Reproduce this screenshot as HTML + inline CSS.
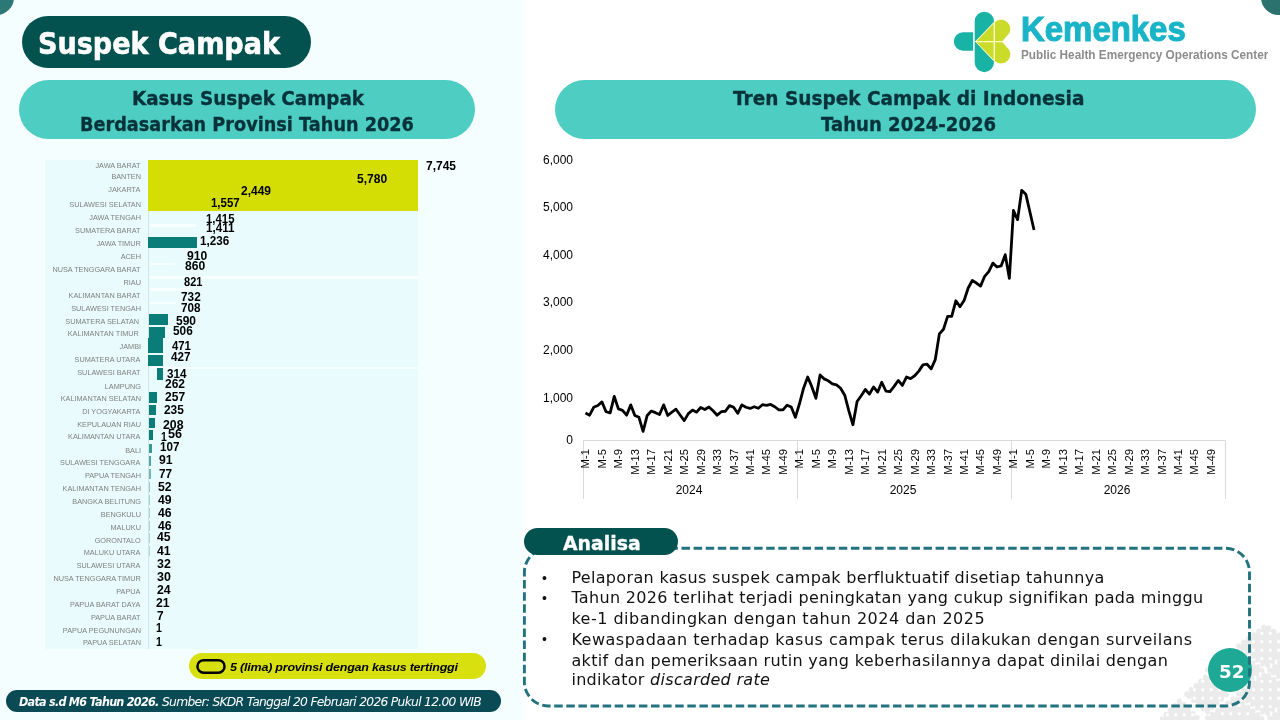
<!DOCTYPE html>
<html lang="id"><head><meta charset="utf-8"><title>Suspek Campak</title>
<style>
html,body{margin:0;padding:0;background:#fff}
body{width:1280px;height:720px;position:relative;overflow:hidden}
.b{position:absolute;display:block}
.t{position:absolute;white-space:nowrap;transform-origin:0 0;margin:0;padding:0}
</style></head><body>
<div class="b" style="left:0.00px;top:0.00px;width:524.00px;height:720.00px;background:#f4fefe;border-radius:0px;"></div>
<div class="b" style="left:518px;top:0;width:12px;height:720px;background:linear-gradient(90deg,#f4fefe,#ffffff)"></div>
<div class="b" style="left:-21px;top:-20.5px;width:35px;height:35px;border-radius:50%;background:#2b7876"></div>
<div class="b" style="left:1260.5px;top:-20.5px;width:35px;height:35px;border-radius:50%;background:#2b726f"></div>
<div class="b" style="left:22.00px;top:16.00px;width:289.00px;height:51.50px;background:#04524f;border-radius:26px;"></div>
<div class="t" style="left:37.71px;top:25.85px;font:normal bold 30px 'DejaVu Sans', sans-serif;line-height:normal;color:#fff;transform:scaleX(0.9021);-webkit-text-stroke:0.6px #fff;paint-order:stroke fill;">Suspek Campak</div>
<div class="b" style="left:19.00px;top:80.00px;width:456.00px;height:59.00px;background:#4ecdc3;border-radius:29.5px;"></div>
<div class="t" style="left:131.82px;top:86.10px;font:normal bold 20px 'DejaVu Sans', sans-serif;line-height:normal;color:#07323a;transform:scaleX(0.9179);-webkit-text-stroke:0.35px #07323a;paint-order:stroke fill;">Kasus Suspek Campak</div>
<div class="t" style="left:80.38px;top:112.00px;font:normal bold 20px 'DejaVu Sans', sans-serif;line-height:normal;color:#07323a;transform:scaleX(0.8839);-webkit-text-stroke:0.35px #07323a;paint-order:stroke fill;">Berdasarkan Provinsi Tahun 2026</div>
<div class="b" style="left:555.20px;top:80.00px;width:701.00px;height:59.00px;background:#4ecdc3;border-radius:29.5px;"></div>
<div class="t" style="left:732.58px;top:85.60px;font:normal bold 20px 'DejaVu Sans', sans-serif;line-height:normal;color:#07323a;transform:scaleX(0.9253);-webkit-text-stroke:0.35px #07323a;paint-order:stroke fill;">Tren Suspek Campak di Indonesia</div>
<div class="t" style="left:821.08px;top:111.50px;font:normal bold 20px 'DejaVu Sans', sans-serif;line-height:normal;color:#07323a;transform:scaleX(0.9033);-webkit-text-stroke:0.35px #07323a;paint-order:stroke fill;">Tahun 2024-2026</div>
<div class="b" style="left:44.60px;top:159.75px;width:373.20px;height:489.70px;background:#e9fbfc;border-radius:0px;"></div>
<div class="b" style="left:147.75px;top:159.75px;width:270.70px;height:51.30px;background:#d5de04;border-radius:0px;"></div>
<div class="b" style="left:148.30px;top:211.00px;width:1.00px;height:438.40px;background:#d3e6e6;border-radius:0px;"></div>
<div class="t" style="left:95.40px;top:161.38px;font:normal normal 7.3px 'Liberation Sans', sans-serif;line-height:normal;color:#808080;transform:scaleX(1.0000);">JAWA BARAT</div>
<div class="t" style="left:111.38px;top:172.23px;font:normal normal 7.3px 'Liberation Sans', sans-serif;line-height:normal;color:#808080;transform:scaleX(1.0000);">BANTEN</div>
<div class="t" style="left:108.24px;top:185.38px;font:normal normal 7.3px 'Liberation Sans', sans-serif;line-height:normal;color:#808080;transform:scaleX(1.0000);">JAKARTA</div>
<div class="t" style="left:69.33px;top:200.38px;font:normal normal 7.3px 'Liberation Sans', sans-serif;line-height:normal;color:#808080;transform:scaleX(1.0000);">SULAWESI SELATAN</div>
<div class="t" style="left:89.34px;top:213.08px;font:normal normal 7.3px 'Liberation Sans', sans-serif;line-height:normal;color:#808080;transform:scaleX(1.0000);">JAWA TENGAH</div>
<div class="t" style="left:75.10px;top:226.23px;font:normal normal 7.3px 'Liberation Sans', sans-serif;line-height:normal;color:#808080;transform:scaleX(1.0000);">SUMATERA BARAT</div>
<div class="t" style="left:96.42px;top:239.18px;font:normal normal 7.3px 'Liberation Sans', sans-serif;line-height:normal;color:#808080;transform:scaleX(1.0000);">JAWA TIMUR</div>
<div class="t" style="left:120.73px;top:252.28px;font:normal normal 7.3px 'Liberation Sans', sans-serif;line-height:normal;color:#808080;transform:scaleX(1.0000);">ACEH</div>
<div class="t" style="left:52.40px;top:265.08px;font:normal normal 7.3px 'Liberation Sans', sans-serif;line-height:normal;color:#808080;transform:scaleX(1.0000);">NUSA TENGGARA BARAT</div>
<div class="t" style="left:123.54px;top:278.48px;font:normal normal 7.3px 'Liberation Sans', sans-serif;line-height:normal;color:#808080;transform:scaleX(1.0000);">RIAU</div>
<div class="t" style="left:68.60px;top:290.98px;font:normal normal 7.3px 'Liberation Sans', sans-serif;line-height:normal;color:#808080;transform:scaleX(1.0000);">KALIMANTAN BARAT</div>
<div class="t" style="left:71.23px;top:304.08px;font:normal normal 7.3px 'Liberation Sans', sans-serif;line-height:normal;color:#808080;transform:scaleX(1.0000);">SULAWESI TENGAH</div>
<div class="t" style="left:65.28px;top:317.23px;font:normal normal 7.3px 'Liberation Sans', sans-serif;line-height:normal;color:#808080;transform:scaleX(1.0000);">SUMATERA SELATAN</div>
<div class="t" style="left:67.73px;top:329.38px;font:normal normal 7.3px 'Liberation Sans', sans-serif;line-height:normal;color:#808080;transform:scaleX(1.0000);">KALIMANTAN TIMUR</div>
<div class="t" style="left:119.60px;top:342.18px;font:normal normal 7.3px 'Liberation Sans', sans-serif;line-height:normal;color:#808080;transform:scaleX(1.0000);">JAMBI</div>
<div class="t" style="left:74.55px;top:355.08px;font:normal normal 7.3px 'Liberation Sans', sans-serif;line-height:normal;color:#808080;transform:scaleX(1.0000);">SUMATERA UTARA</div>
<div class="t" style="left:77.26px;top:368.23px;font:normal normal 7.3px 'Liberation Sans', sans-serif;line-height:normal;color:#808080;transform:scaleX(1.0000);">SULAWESI BARAT</div>
<div class="t" style="left:104.81px;top:382.28px;font:normal normal 7.3px 'Liberation Sans', sans-serif;line-height:normal;color:#808080;transform:scaleX(1.0000);">LAMPUNG</div>
<div class="t" style="left:60.68px;top:394.08px;font:normal normal 7.3px 'Liberation Sans', sans-serif;line-height:normal;color:#808080;transform:scaleX(1.0000);">KALIMANTAN SELATAN</div>
<div class="t" style="left:82.15px;top:407.08px;font:normal normal 7.3px 'Liberation Sans', sans-serif;line-height:normal;color:#808080;transform:scaleX(1.0000);">DI YOGYAKARTA</div>
<div class="t" style="left:77.26px;top:419.98px;font:normal normal 7.3px 'Liberation Sans', sans-serif;line-height:normal;color:#808080;transform:scaleX(1.0000);">KEPULAUAN RIAU</div>
<div class="t" style="left:68.09px;top:432.18px;font:normal normal 7.3px 'Liberation Sans', sans-serif;line-height:normal;color:#808080;transform:scaleX(1.0000);">KALIMANTAN UTARA</div>
<div class="t" style="left:125.25px;top:446.23px;font:normal normal 7.3px 'Liberation Sans', sans-serif;line-height:normal;color:#808080;transform:scaleX(1.0000);">BALI</div>
<div class="t" style="left:60.10px;top:457.88px;font:normal normal 7.3px 'Liberation Sans', sans-serif;line-height:normal;color:#808080;transform:scaleX(1.0000);">SULAWESI TENGGARA</div>
<div class="t" style="left:84.88px;top:470.98px;font:normal normal 7.3px 'Liberation Sans', sans-serif;line-height:normal;color:#808080;transform:scaleX(1.0000);">PAPUA TENGAH</div>
<div class="t" style="left:62.58px;top:484.08px;font:normal normal 7.3px 'Liberation Sans', sans-serif;line-height:normal;color:#808080;transform:scaleX(1.0000);">KALIMANTAN TENGAH</div>
<div class="t" style="left:72.36px;top:497.23px;font:normal normal 7.3px 'Liberation Sans', sans-serif;line-height:normal;color:#808080;transform:scaleX(1.0000);">BANGKA BELITUNG</div>
<div class="t" style="left:100.80px;top:509.98px;font:normal normal 7.3px 'Liberation Sans', sans-serif;line-height:normal;color:#808080;transform:scaleX(1.0000);">BENGKULU</div>
<div class="t" style="left:110.54px;top:523.08px;font:normal normal 7.3px 'Liberation Sans', sans-serif;line-height:normal;color:#808080;transform:scaleX(1.0000);">MALUKU</div>
<div class="t" style="left:94.63px;top:535.68px;font:normal normal 7.3px 'Liberation Sans', sans-serif;line-height:normal;color:#808080;transform:scaleX(1.0000);">GORONTALO</div>
<div class="t" style="left:83.75px;top:547.88px;font:normal normal 7.3px 'Liberation Sans', sans-serif;line-height:normal;color:#808080;transform:scaleX(1.0000);">MALUKU UTARA</div>
<div class="t" style="left:76.74px;top:560.98px;font:normal normal 7.3px 'Liberation Sans', sans-serif;line-height:normal;color:#808080;transform:scaleX(1.0000);">SULAWESI UTARA</div>
<div class="t" style="left:53.38px;top:574.08px;font:normal normal 7.3px 'Liberation Sans', sans-serif;line-height:normal;color:#808080;transform:scaleX(1.0000);">NUSA TENGGARA TIMUR</div>
<div class="t" style="left:116.20px;top:587.23px;font:normal normal 7.3px 'Liberation Sans', sans-serif;line-height:normal;color:#808080;transform:scaleX(1.0000);">PAPUA</div>
<div class="t" style="left:70.10px;top:599.98px;font:normal normal 7.3px 'Liberation Sans', sans-serif;line-height:normal;color:#808080;transform:scaleX(1.0000);">PAPUA BARAT DAYA</div>
<div class="t" style="left:90.91px;top:612.88px;font:normal normal 7.3px 'Liberation Sans', sans-serif;line-height:normal;color:#808080;transform:scaleX(1.0000);">PAPUA BARAT</div>
<div class="t" style="left:62.84px;top:626.08px;font:normal normal 7.3px 'Liberation Sans', sans-serif;line-height:normal;color:#808080;transform:scaleX(1.0000);">PAPUA PEGUNUNGAN</div>
<div class="t" style="left:82.99px;top:638.23px;font:normal normal 7.3px 'Liberation Sans', sans-serif;line-height:normal;color:#808080;transform:scaleX(1.0000);">PAPUA SELATAN</div>
<div class="b" style="left:149.70px;top:224.00px;width:46.00px;height:3.00px;background:#f8ffff;border-radius:0px;"></div>
<div class="b" style="left:149.70px;top:262.50px;width:25.50px;height:2.30px;background:#f8ffff;border-radius:0px;"></div>
<div class="b" style="left:149.70px;top:275.50px;width:268.00px;height:3.00px;background:#f8ffff;border-radius:0px;"></div>
<div class="b" style="left:149.70px;top:288.30px;width:40.00px;height:2.50px;background:#f8ffff;border-radius:0px;"></div>
<div class="b" style="left:149.70px;top:301.50px;width:26.00px;height:2.50px;background:#f8ffff;border-radius:0px;"></div>
<div class="b" style="left:149.70px;top:366.50px;width:268.00px;height:2.50px;background:#f8ffff;border-radius:0px;"></div>
<div class="b" style="left:148.20px;top:237.20px;width:48.80px;height:10.70px;background:#0b7d79;border-radius:0px;"></div>
<div class="b" style="left:149.30px;top:314.30px;width:18.60px;height:10.70px;background:#0b7d79;border-radius:0px;"></div>
<div class="b" style="left:149.30px;top:326.90px;width:15.70px;height:10.85px;background:#0b7d79;border-radius:0px;"></div>
<div class="b" style="left:148.20px;top:337.75px;width:14.60px;height:15.25px;background:#0b7d79;border-radius:0px;"></div>
<div class="b" style="left:148.20px;top:355.40px;width:14.60px;height:10.30px;background:#0b7d79;border-radius:0px;"></div>
<div class="b" style="left:157.20px;top:368.10px;width:5.60px;height:12.20px;background:#0b7d79;border-radius:0px;"></div>
<div class="b" style="left:149.30px;top:392.10px;width:7.30px;height:10.70px;background:#0b7d79;border-radius:0px;"></div>
<div class="b" style="left:149.30px;top:405.25px;width:6.60px;height:10.15px;background:#0b7d79;border-radius:0px;"></div>
<div class="b" style="left:149.30px;top:418.20px;width:5.45px;height:10.30px;background:#0b7d79;border-radius:0px;"></div>
<div class="b" style="left:149.30px;top:430.00px;width:3.70px;height:10.30px;background:#0b7d79;border-radius:0px;"></div>
<div class="b" style="left:149.30px;top:443.50px;width:2.30px;height:9.90px;background:#3a9a96;border-radius:0px;"></div>
<div class="b" style="left:149.30px;top:456.25px;width:1.70px;height:9.75px;background:#4fa7a3;border-radius:0px;"></div>
<div class="b" style="left:149.30px;top:469.00px;width:1.30px;height:10.00px;background:#6fb8b5;border-radius:0px;"></div>
<div class="b" style="left:149.30px;top:481.50px;width:1.00px;height:10.40px;background:#8fcac8;border-radius:0px;"></div>
<div class="b" style="left:149.30px;top:494.50px;width:0.90px;height:10.40px;background:#9fd2d0;border-radius:0px;"></div>
<div class="b" style="left:149.30px;top:507.50px;width:0.90px;height:10.40px;background:#a5d5d3;border-radius:0px;"></div>
<div class="b" style="left:149.30px;top:520.50px;width:0.90px;height:10.40px;background:#a5d5d3;border-radius:0px;"></div>
<div class="b" style="left:149.30px;top:533.00px;width:0.90px;height:10.40px;background:#a9d7d5;border-radius:0px;"></div>
<div class="b" style="left:149.30px;top:545.50px;width:0.80px;height:10.40px;background:#b0dad8;border-radius:0px;"></div>
<div class="t" style="left:426.12px;top:159.47px;font:normal bold 12.4px 'Liberation Sans', sans-serif;line-height:normal;color:#000;transform:scaleX(0.9671);">7,745</div>
<div class="t" style="left:357.14px;top:171.67px;font:normal bold 12.4px 'Liberation Sans', sans-serif;line-height:normal;color:#000;transform:scaleX(0.9724);">5,780</div>
<div class="t" style="left:241.28px;top:183.97px;font:normal bold 12.4px 'Liberation Sans', sans-serif;line-height:normal;color:#000;transform:scaleX(0.9658);">2,449</div>
<div class="t" style="left:210.91px;top:195.97px;font:normal bold 12.4px 'Liberation Sans', sans-serif;line-height:normal;color:#000;transform:scaleX(0.9241);">1,557</div>
<div class="t" style="left:205.82px;top:211.87px;font:normal bold 12.4px 'Liberation Sans', sans-serif;line-height:normal;color:#000;transform:scaleX(0.9183);">1,415</div>
<div class="t" style="left:205.80px;top:220.87px;font:normal bold 12.4px 'Liberation Sans', sans-serif;line-height:normal;color:#000;transform:scaleX(0.9397);">1,411</div>
<div class="t" style="left:199.60px;top:234.37px;font:normal bold 12.4px 'Liberation Sans', sans-serif;line-height:normal;color:#000;transform:scaleX(0.9423);">1,236</div>
<div class="t" style="left:186.78px;top:248.97px;font:normal bold 12.4px 'Liberation Sans', sans-serif;line-height:normal;color:#000;transform:scaleX(0.9789);">910</div>
<div class="t" style="left:184.94px;top:259.32px;font:normal bold 12.4px 'Liberation Sans', sans-serif;line-height:normal;color:#000;transform:scaleX(0.9758);">860</div>
<div class="t" style="left:184.07px;top:274.67px;font:normal bold 12.4px 'Liberation Sans', sans-serif;line-height:normal;color:#000;transform:scaleX(0.8916);">821</div>
<div class="t" style="left:181.43px;top:289.57px;font:normal bold 12.4px 'Liberation Sans', sans-serif;line-height:normal;color:#000;transform:scaleX(0.9535);">732</div>
<div class="t" style="left:180.73px;top:300.82px;font:normal bold 12.4px 'Liberation Sans', sans-serif;line-height:normal;color:#000;transform:scaleX(0.9455);">708</div>
<div class="t" style="left:176.14px;top:313.77px;font:normal bold 12.4px 'Liberation Sans', sans-serif;line-height:normal;color:#000;transform:scaleX(0.9657);">590</div>
<div class="t" style="left:173.15px;top:323.67px;font:normal bold 12.4px 'Liberation Sans', sans-serif;line-height:normal;color:#000;transform:scaleX(0.9526);">506</div>
<div class="t" style="left:172.03px;top:339.07px;font:normal bold 12.4px 'Liberation Sans', sans-serif;line-height:normal;color:#000;transform:scaleX(0.9132);">471</div>
<div class="t" style="left:171.08px;top:349.97px;font:normal bold 12.4px 'Liberation Sans', sans-serif;line-height:normal;color:#000;transform:scaleX(0.9392);">427</div>
<div class="t" style="left:166.87px;top:366.82px;font:normal bold 12.4px 'Liberation Sans', sans-serif;line-height:normal;color:#000;transform:scaleX(0.9417);">314</div>
<div class="t" style="left:164.83px;top:376.57px;font:normal bold 12.4px 'Liberation Sans', sans-serif;line-height:normal;color:#000;transform:scaleX(0.9682);">262</div>
<div class="t" style="left:164.83px;top:389.67px;font:normal bold 12.4px 'Liberation Sans', sans-serif;line-height:normal;color:#000;transform:scaleX(0.9713);">257</div>
<div class="t" style="left:163.88px;top:402.82px;font:normal bold 12.4px 'Liberation Sans', sans-serif;line-height:normal;color:#000;transform:scaleX(0.9597);">235</div>
<div class="t" style="left:162.77px;top:417.82px;font:normal bold 12.4px 'Liberation Sans', sans-serif;line-height:normal;color:#000;transform:scaleX(0.9929);">208</div>
<div class="t" style="left:161.07px;top:429.67px;font:normal bold 12.4px 'Liberation Sans', sans-serif;line-height:normal;color:#000;transform:scaleX(0.8408);">1</div>
<div class="t" style="left:168.02px;top:426.82px;font:normal bold 12.4px 'Liberation Sans', sans-serif;line-height:normal;color:#000;transform:scaleX(1.0187);">56</div>
<div class="t" style="left:160.20px;top:440.47px;font:normal bold 12.4px 'Liberation Sans', sans-serif;line-height:normal;color:#000;transform:scaleX(0.9379);">107</div>
<div class="t" style="left:158.97px;top:453.47px;font:normal bold 12.4px 'Liberation Sans', sans-serif;line-height:normal;color:#000;transform:scaleX(0.9831);">91</div>
<div class="t" style="left:158.63px;top:466.57px;font:normal bold 12.4px 'Liberation Sans', sans-serif;line-height:normal;color:#000;transform:scaleX(0.9513);">77</div>
<div class="t" style="left:158.13px;top:479.67px;font:normal bold 12.4px 'Liberation Sans', sans-serif;line-height:normal;color:#000;transform:scaleX(0.9839);">52</div>
<div class="t" style="left:157.57px;top:492.82px;font:normal bold 12.4px 'Liberation Sans', sans-serif;line-height:normal;color:#000;transform:scaleX(0.9852);">49</div>
<div class="t" style="left:157.57px;top:505.97px;font:normal bold 12.4px 'Liberation Sans', sans-serif;line-height:normal;color:#000;transform:scaleX(0.9852);">46</div>
<div class="t" style="left:157.57px;top:518.87px;font:normal bold 12.4px 'Liberation Sans', sans-serif;line-height:normal;color:#000;transform:scaleX(0.9852);">46</div>
<div class="t" style="left:157.02px;top:530.47px;font:normal bold 12.4px 'Liberation Sans', sans-serif;line-height:normal;color:#000;transform:scaleX(0.9873);">45</div>
<div class="t" style="left:157.02px;top:543.67px;font:normal bold 12.4px 'Liberation Sans', sans-serif;line-height:normal;color:#000;transform:scaleX(0.9873);">41</div>
<div class="t" style="left:156.95px;top:556.77px;font:normal bold 12.4px 'Liberation Sans', sans-serif;line-height:normal;color:#000;transform:scaleX(1.0014);">32</div>
<div class="t" style="left:156.95px;top:569.67px;font:normal bold 12.4px 'Liberation Sans', sans-serif;line-height:normal;color:#000;transform:scaleX(1.0061);">30</div>
<div class="t" style="left:156.77px;top:582.82px;font:normal bold 12.4px 'Liberation Sans', sans-serif;line-height:normal;color:#000;transform:scaleX(0.9873);">24</div>
<div class="t" style="left:156.17px;top:595.57px;font:normal bold 12.4px 'Liberation Sans', sans-serif;line-height:normal;color:#000;transform:scaleX(0.9831);">21</div>
<div class="t" style="left:156.73px;top:608.67px;font:normal bold 12.4px 'Liberation Sans', sans-serif;line-height:normal;color:#000;transform:scaleX(0.9508);">7</div>
<div class="t" style="left:156.36px;top:620.87px;font:normal bold 12.4px 'Liberation Sans', sans-serif;line-height:normal;color:#000;transform:scaleX(0.8579);">1</div>
<div class="t" style="left:156.36px;top:635.32px;font:normal bold 12.4px 'Liberation Sans', sans-serif;line-height:normal;color:#000;transform:scaleX(0.8579);">1</div>
<div class="b" style="left:189.30px;top:653.10px;width:296.70px;height:25.80px;background:#d8e010;border-radius:13px;"></div>
<svg class="b" style="left:190px;top:654px" width="42" height="24" viewBox="190 654 42 24"><rect x="197.45" y="660.15" width="27.1" height="12.5" rx="6.25" fill="none" stroke="#000" stroke-width="2.5"/></svg>
<div class="t" style="left:229.67px;top:660.14px;font:italic bold 11.6px 'Liberation Sans', sans-serif;line-height:normal;color:#000;transform:scaleX(1.0793);letter-spacing:-0.2px;">5 (lima) provinsi dengan kasus tertinggi</div>
<div class="b" style="left:6.10px;top:689.75px;width:494.50px;height:22.30px;background:#0a4a55;border-radius:11.2px;"></div>
<div class="t" style="left:19.48px;top:694.84px;font:italic bold 12px 'DejaVu Sans', sans-serif;line-height:normal;color:#fff;transform:scaleX(0.9349);letter-spacing:-0.8px;">Data s.d M6 Tahun 2026.</div>
<div class="t" style="left:162.44px;top:694.84px;font:italic normal 12px 'DejaVu Sans', sans-serif;line-height:normal;color:#fff;transform:scaleX(1.0260);letter-spacing:-0.7px;">Sumber: SKDR Tanggal 20 Februari 2026 Pukul 12.00 WIB</div>
<svg class="b" style="left:945px;top:5px" width="80" height="75" viewBox="0 0 768 720">
<g fill="#18b3a5">
<path d="M270,262 L174,262 A89,89 0 0 0 174,440 L270,440 Z"/>
<path d="M285,158 A92.5,93 0 0 1 470,158 L470,165 L290,350 L470,540 L470,552 A92.5,93 0 0 1 285,552 Z"/>
</g>
<g stroke="#fdfdb4" stroke-width="9" fill="none"><path d="M292,351 H556 M474,160 V542 M470,168 L294,351 L470,536"/></g>
<g fill="#cbdb2a">
<path d="M304,345 L467,345 L467,178 Z"/>
<path d="M304,357 L467,357 L467,528 Z"/>
<path d="M480,165 C500,140 548,132 585,155 C630,185 638,240 612,275 L552,345 L480,345 Z"/>
<path d="M480,537 C500,562 548,570 585,547 C630,517 638,462 612,427 L552,357 L480,357 Z"/>
</g>
</svg>
<div class="t" style="left:1021.41px;top:9.81px;font:normal bold 34.5px 'Liberation Sans', sans-serif;line-height:normal;color:#1ab4c8;transform:scaleX(0.9545);-webkit-text-stroke:1.1px #1ab4c8;paint-order:stroke fill;">Kemenkes</div>
<div class="t" style="left:1021.03px;top:47.42px;font:normal bold 13.5px 'Liberation Sans', sans-serif;line-height:normal;color:#8c8c8c;transform:scaleX(0.8719);">Public Health Emergency Operations Center</div>
<svg class="b" style="left:0;top:0" width="1280" height="720" viewBox="0 0 1280 720">
<g stroke="#d9d9d9" stroke-width="1" fill="none">
<path d="M583.5,440.5 H1225.5"/>
<path d="M583.5,440.5 V499"/>
<path d="M797.5,440.5 V499"/>
<path d="M1011.5,440.5 V499"/>
<path d="M1225.5,440.5 V499"/>
</g>
<path d="M585.46,413.12 L589.58,415.19 L593.69,407.31 L597.81,405.44 L601.92,401.87 L606.04,411.72 L610.15,412.94 L614.27,396.44 L618.38,408.91 L622.5,410.31 L626.61,415.19 L630.73,404.87 L634.84,415.47 L638.96,417.34 L643.08,431.41 L647.19,415.47 L651.31,411.06 L655.42,412.66 L659.54,414.53 L663.65,404.87 L667.77,415.47 L671.88,412.19 L676.0,409.19 L680.11,415.0 L684.23,420.62 L688.35,413.59 L692.46,410.12 L696.58,412.19 L700.69,407.5 L704.81,409.56 L708.92,407.03 L713.04,410.78 L717.15,415.19 L721.27,411.72 L725.38,411.25 L729.5,405.62 L733.61,407.31 L737.73,413.31 L741.85,404.87 L745.96,407.22 L750.08,408.44 L754.19,406.75 L758.31,408.25 L762.42,404.69 L766.54,405.44 L770.65,404.41 L774.77,406.75 L778.88,409.84 L783.0,409.84 L787.11,405.16 L791.23,407.03 L795.35,417.34 L799.46,403.78 L803.58,388.22 L807.69,377.02 L811.81,386.67 L815.92,398.33 L820.04,375.0 L824.15,378.89 L828.27,380.76 L832.38,383.87 L836.5,384.8 L840.61,388.22 L844.73,395.22 L848.85,410.78 L852.96,424.78 L857.08,401.44 L861.19,395.69 L865.31,389.47 L869.42,394.13 L873.54,386.98 L877.65,392.11 L881.77,382.31 L885.88,391.02 L890.0,391.64 L894.12,386.36 L898.23,380.44 L902.35,385.42 L906.46,377.02 L910.58,378.58 L914.69,375.78 L918.81,371.11 L922.92,364.89 L927.04,364.22 L931.15,368.89 L935.27,359.56 L939.38,333.89 L943.5,329.22 L947.62,316.31 L951.73,316.31 L955.85,300.76 L959.96,306.67 L964.08,300.44 L968.19,288.0 L972.31,280.53 L976.42,283.02 L980.54,286.13 L984.65,276.33 L988.77,271.67 L992.88,263.11 L997.0,267.0 L1001.12,265.91 L1005.23,254.67 L1009.35,278.33 L1013.46,210.5 L1017.58,219.67 L1021.69,190.33 L1025.81,194.17 L1029.92,212.0 L1034.04,230.0" fill="none" stroke="#000" stroke-width="2.8" stroke-linejoin="round" stroke-linecap="butt"/>
<g font-family="Liberation Sans, sans-serif" font-size="12" fill="#000" text-anchor="end">
<text x="573" y="163.7">6,000</text>
<text x="573" y="210.9">5,000</text>
<text x="573" y="258.5">4,000</text>
<text x="573" y="306.1">3,000</text>
<text x="573" y="353.9">2,000</text>
<text x="573" y="401.9">1,000</text>
<text x="573" y="443.8">0</text>
</g>
<g font-family="Liberation Sans, sans-serif" font-size="11.3" fill="#000" text-anchor="end">
<text transform="translate(589.36,449) rotate(-90)">M-1</text>
<text transform="translate(605.82,449) rotate(-90)">M-5</text>
<text transform="translate(622.28,449) rotate(-90)">M-9</text>
<text transform="translate(638.74,449) rotate(-90)">M-13</text>
<text transform="translate(655.20,449) rotate(-90)">M-17</text>
<text transform="translate(671.67,449) rotate(-90)">M-21</text>
<text transform="translate(688.13,449) rotate(-90)">M-25</text>
<text transform="translate(704.59,449) rotate(-90)">M-29</text>
<text transform="translate(721.05,449) rotate(-90)">M-33</text>
<text transform="translate(737.51,449) rotate(-90)">M-37</text>
<text transform="translate(753.97,449) rotate(-90)">M-41</text>
<text transform="translate(770.44,449) rotate(-90)">M-45</text>
<text transform="translate(786.90,449) rotate(-90)">M-49</text>
<text transform="translate(803.36,449) rotate(-90)">M-1</text>
<text transform="translate(819.82,449) rotate(-90)">M-5</text>
<text transform="translate(836.28,449) rotate(-90)">M-9</text>
<text transform="translate(852.74,449) rotate(-90)">M-13</text>
<text transform="translate(869.20,449) rotate(-90)">M-17</text>
<text transform="translate(885.67,449) rotate(-90)">M-21</text>
<text transform="translate(902.13,449) rotate(-90)">M-25</text>
<text transform="translate(918.59,449) rotate(-90)">M-29</text>
<text transform="translate(935.05,449) rotate(-90)">M-33</text>
<text transform="translate(951.51,449) rotate(-90)">M-37</text>
<text transform="translate(967.97,449) rotate(-90)">M-41</text>
<text transform="translate(984.44,449) rotate(-90)">M-45</text>
<text transform="translate(1000.90,449) rotate(-90)">M-49</text>
<text transform="translate(1017.36,449) rotate(-90)">M-1</text>
<text transform="translate(1033.82,449) rotate(-90)">M-5</text>
<text transform="translate(1050.28,449) rotate(-90)">M-9</text>
<text transform="translate(1066.74,449) rotate(-90)">M-13</text>
<text transform="translate(1083.20,449) rotate(-90)">M-17</text>
<text transform="translate(1099.67,449) rotate(-90)">M-21</text>
<text transform="translate(1116.13,449) rotate(-90)">M-25</text>
<text transform="translate(1132.59,449) rotate(-90)">M-29</text>
<text transform="translate(1149.05,449) rotate(-90)">M-33</text>
<text transform="translate(1165.51,449) rotate(-90)">M-37</text>
<text transform="translate(1181.97,449) rotate(-90)">M-41</text>
<text transform="translate(1198.44,449) rotate(-90)">M-45</text>
<text transform="translate(1214.90,449) rotate(-90)">M-49</text>
</g>
<g font-family="Liberation Sans, sans-serif" font-size="12" fill="#000" text-anchor="middle">
<text x="689.0" y="494.3">2024</text>
<text x="903.0" y="494.3">2025</text>
<text x="1117.0" y="494.3">2026</text>
</g>
</svg>
<svg class="b" style="left:1160px;top:600px" width="120" height="120" viewBox="1160 600 120 120"><g fill="#ebebeb" stroke="#ebebeb" stroke-width="5" stroke-linejoin="round" stroke-dasharray="0.1 6.2" stroke-linecap="round"><path d="M1186.5,694 L1207,675.5 L1227.5,694 L1207,712.5 Z"/><path d="M1161.5,719 L1180,700.5 L1198.5,719 L1180,737.5 Z"/><path d="M1207.5,670 L1235,649.5 L1262.5,670 L1235,690.5 Z"/><path d="M1238.5,646 L1266,625.5 L1293.5,646 L1266,666.5 Z"/><path d="M1238.5,694 L1266,673.5 L1293.5,694 L1266,714.5 Z"/><path d="M1207.5,718 L1235,697.5 L1262.5,718 L1235,738.5 Z"/><path d="M1176.5,742 L1204,721.5 L1231.5,742 L1204,762.5 Z"/><path d="M1269.5,670 L1297,649.5 L1324.5,670 L1297,690.5 Z"/><path d="M1269.5,718 L1297,697.5 L1324.5,718 L1297,738.5 Z"/><path d="M1238.5,742 L1266,721.5 L1293.5,742 L1266,762.5 Z"/></g><g fill="#fff"><rect x="1193.0" y="688.4" width="2.8" height="2.8"/><rect x="1193.0" y="696.8" width="2.8" height="2.8"/><rect x="1201.4" y="680.0" width="2.8" height="2.8"/><rect x="1201.4" y="688.4" width="2.8" height="2.8"/><rect x="1201.4" y="696.8" width="2.8" height="2.8"/><rect x="1201.4" y="705.2" width="2.8" height="2.8"/><rect x="1209.8" y="680.0" width="2.8" height="2.8"/><rect x="1209.8" y="688.4" width="2.8" height="2.8"/><rect x="1209.8" y="696.8" width="2.8" height="2.8"/><rect x="1209.8" y="705.2" width="2.8" height="2.8"/><rect x="1218.2" y="688.4" width="2.8" height="2.8"/><rect x="1218.2" y="696.8" width="2.8" height="2.8"/><rect x="1166.0" y="713.4" width="2.8" height="2.8"/><rect x="1166.0" y="721.8" width="2.8" height="2.8"/><rect x="1174.4" y="705.0" width="2.8" height="2.8"/><rect x="1174.4" y="713.4" width="2.8" height="2.8"/><rect x="1174.4" y="721.8" width="2.8" height="2.8"/><rect x="1174.4" y="730.2" width="2.8" height="2.8"/><rect x="1182.8" y="705.0" width="2.8" height="2.8"/><rect x="1182.8" y="713.4" width="2.8" height="2.8"/><rect x="1182.8" y="721.8" width="2.8" height="2.8"/><rect x="1182.8" y="730.2" width="2.8" height="2.8"/><rect x="1191.2" y="713.4" width="2.8" height="2.8"/><rect x="1191.2" y="721.8" width="2.8" height="2.8"/><rect x="1221.0" y="664.4" width="2.8" height="2.8"/><rect x="1221.0" y="672.8" width="2.8" height="2.8"/><rect x="1229.4" y="656.0" width="2.8" height="2.8"/><rect x="1229.4" y="664.4" width="2.8" height="2.8"/><rect x="1229.4" y="672.8" width="2.8" height="2.8"/><rect x="1229.4" y="681.2" width="2.8" height="2.8"/><rect x="1237.8" y="656.0" width="2.8" height="2.8"/><rect x="1237.8" y="664.4" width="2.8" height="2.8"/><rect x="1237.8" y="672.8" width="2.8" height="2.8"/><rect x="1237.8" y="681.2" width="2.8" height="2.8"/><rect x="1246.2" y="664.4" width="2.8" height="2.8"/><rect x="1246.2" y="672.8" width="2.8" height="2.8"/><rect x="1252.0" y="640.4" width="2.8" height="2.8"/><rect x="1252.0" y="648.8" width="2.8" height="2.8"/><rect x="1260.4" y="632.0" width="2.8" height="2.8"/><rect x="1260.4" y="640.4" width="2.8" height="2.8"/><rect x="1260.4" y="648.8" width="2.8" height="2.8"/><rect x="1260.4" y="657.2" width="2.8" height="2.8"/><rect x="1268.8" y="632.0" width="2.8" height="2.8"/><rect x="1268.8" y="640.4" width="2.8" height="2.8"/><rect x="1268.8" y="648.8" width="2.8" height="2.8"/><rect x="1268.8" y="657.2" width="2.8" height="2.8"/><rect x="1277.2" y="640.4" width="2.8" height="2.8"/><rect x="1277.2" y="648.8" width="2.8" height="2.8"/><rect x="1252.0" y="688.4" width="2.8" height="2.8"/><rect x="1252.0" y="696.8" width="2.8" height="2.8"/><rect x="1260.4" y="680.0" width="2.8" height="2.8"/><rect x="1260.4" y="688.4" width="2.8" height="2.8"/><rect x="1260.4" y="696.8" width="2.8" height="2.8"/><rect x="1260.4" y="705.2" width="2.8" height="2.8"/><rect x="1268.8" y="680.0" width="2.8" height="2.8"/><rect x="1268.8" y="688.4" width="2.8" height="2.8"/><rect x="1268.8" y="696.8" width="2.8" height="2.8"/><rect x="1268.8" y="705.2" width="2.8" height="2.8"/><rect x="1277.2" y="688.4" width="2.8" height="2.8"/><rect x="1277.2" y="696.8" width="2.8" height="2.8"/><rect x="1221.0" y="712.4" width="2.8" height="2.8"/><rect x="1221.0" y="720.8" width="2.8" height="2.8"/><rect x="1229.4" y="704.0" width="2.8" height="2.8"/><rect x="1229.4" y="712.4" width="2.8" height="2.8"/><rect x="1229.4" y="720.8" width="2.8" height="2.8"/><rect x="1229.4" y="729.2" width="2.8" height="2.8"/><rect x="1237.8" y="704.0" width="2.8" height="2.8"/><rect x="1237.8" y="712.4" width="2.8" height="2.8"/><rect x="1237.8" y="720.8" width="2.8" height="2.8"/><rect x="1237.8" y="729.2" width="2.8" height="2.8"/><rect x="1246.2" y="712.4" width="2.8" height="2.8"/><rect x="1246.2" y="720.8" width="2.8" height="2.8"/><rect x="1190.0" y="736.4" width="2.8" height="2.8"/><rect x="1190.0" y="744.8" width="2.8" height="2.8"/><rect x="1198.4" y="728.0" width="2.8" height="2.8"/><rect x="1198.4" y="736.4" width="2.8" height="2.8"/><rect x="1198.4" y="744.8" width="2.8" height="2.8"/><rect x="1198.4" y="753.2" width="2.8" height="2.8"/><rect x="1206.8" y="728.0" width="2.8" height="2.8"/><rect x="1206.8" y="736.4" width="2.8" height="2.8"/><rect x="1206.8" y="744.8" width="2.8" height="2.8"/><rect x="1206.8" y="753.2" width="2.8" height="2.8"/><rect x="1215.2" y="736.4" width="2.8" height="2.8"/><rect x="1215.2" y="744.8" width="2.8" height="2.8"/><rect x="1283.0" y="664.4" width="2.8" height="2.8"/><rect x="1283.0" y="672.8" width="2.8" height="2.8"/><rect x="1291.4" y="656.0" width="2.8" height="2.8"/><rect x="1291.4" y="664.4" width="2.8" height="2.8"/><rect x="1291.4" y="672.8" width="2.8" height="2.8"/><rect x="1291.4" y="681.2" width="2.8" height="2.8"/><rect x="1299.8" y="656.0" width="2.8" height="2.8"/><rect x="1299.8" y="664.4" width="2.8" height="2.8"/><rect x="1299.8" y="672.8" width="2.8" height="2.8"/><rect x="1299.8" y="681.2" width="2.8" height="2.8"/><rect x="1308.2" y="664.4" width="2.8" height="2.8"/><rect x="1308.2" y="672.8" width="2.8" height="2.8"/><rect x="1283.0" y="712.4" width="2.8" height="2.8"/><rect x="1283.0" y="720.8" width="2.8" height="2.8"/><rect x="1291.4" y="704.0" width="2.8" height="2.8"/><rect x="1291.4" y="712.4" width="2.8" height="2.8"/><rect x="1291.4" y="720.8" width="2.8" height="2.8"/><rect x="1291.4" y="729.2" width="2.8" height="2.8"/><rect x="1299.8" y="704.0" width="2.8" height="2.8"/><rect x="1299.8" y="712.4" width="2.8" height="2.8"/><rect x="1299.8" y="720.8" width="2.8" height="2.8"/><rect x="1299.8" y="729.2" width="2.8" height="2.8"/><rect x="1308.2" y="712.4" width="2.8" height="2.8"/><rect x="1308.2" y="720.8" width="2.8" height="2.8"/><rect x="1252.0" y="736.4" width="2.8" height="2.8"/><rect x="1252.0" y="744.8" width="2.8" height="2.8"/><rect x="1260.4" y="728.0" width="2.8" height="2.8"/><rect x="1260.4" y="736.4" width="2.8" height="2.8"/><rect x="1260.4" y="744.8" width="2.8" height="2.8"/><rect x="1260.4" y="753.2" width="2.8" height="2.8"/><rect x="1268.8" y="728.0" width="2.8" height="2.8"/><rect x="1268.8" y="736.4" width="2.8" height="2.8"/><rect x="1268.8" y="744.8" width="2.8" height="2.8"/><rect x="1268.8" y="753.2" width="2.8" height="2.8"/><rect x="1277.2" y="736.4" width="2.8" height="2.8"/><rect x="1277.2" y="744.8" width="2.8" height="2.8"/></g></svg>
<div class="b" style="left:1207.5px;top:647.8px;width:44.4px;height:44.4px;border-radius:50%;background:#1ea997"></div>
<div class="t" style="left:1218.93px;top:660.76px;font:normal bold 18px 'DejaVu Sans', sans-serif;line-height:normal;color:#fff;transform:scaleX(1.0163);">52</div>
<svg class="b" style="left:0;top:0" width="1280" height="720" viewBox="0 0 1280 720"><rect x="524.4" y="548.2" width="725.1" height="157.8" rx="24" ry="24" fill="none" stroke="#22737f" stroke-width="2.9" stroke-dasharray="8.5 3.6"/></svg>
<div class="b" style="left:523.75px;top:528.00px;width:153.75px;height:27.00px;background:#04524f;border-radius:13.5px;"></div>
<div class="t" style="left:563.08px;top:530.90px;font:normal bold 20px 'DejaVu Sans', sans-serif;line-height:normal;color:#fff;transform:scaleX(0.9436);-webkit-text-stroke:0.35px #fff;paint-order:stroke fill;">Analisa</div>
<div class="t" style="left:541.84px;top:568.95px;font:normal normal 15px 'Liberation Sans', sans-serif;line-height:normal;color:#111;transform:scaleX(0.9383);">•</div>
<div class="t" style="left:571.40px;top:568.32px;font:16px 'DejaVu Sans', sans-serif;line-height:normal;color:#111;letter-spacing:0.328px">Pelaporan kasus suspek campak berfluktuatif disetiap tahunnya</div>
<div class="t" style="left:541.84px;top:588.75px;font:normal normal 15px 'Liberation Sans', sans-serif;line-height:normal;color:#111;transform:scaleX(0.9383);">•</div>
<div class="t" style="left:571.40px;top:588.12px;font:16px 'DejaVu Sans', sans-serif;line-height:normal;color:#111;letter-spacing:0.333px">Tahun 2026 terlihat terjadi peningkatan yang cukup signifikan pada minggu</div>
<div class="t" style="left:571.40px;top:608.92px;font:16px 'DejaVu Sans', sans-serif;line-height:normal;color:#111;letter-spacing:0.498px">ke-1 dibandingkan dengan tahun 2024 dan 2025</div>
<div class="t" style="left:541.84px;top:630.35px;font:normal normal 15px 'Liberation Sans', sans-serif;line-height:normal;color:#111;transform:scaleX(0.9383);">•</div>
<div class="t" style="left:571.40px;top:629.72px;font:16px 'DejaVu Sans', sans-serif;line-height:normal;color:#111;letter-spacing:0.504px">Kewaspadaan terhadap kasus campak terus dilakukan dengan surveilans</div>
<div class="t" style="left:571.40px;top:651.12px;font:16px 'DejaVu Sans', sans-serif;line-height:normal;color:#111;letter-spacing:0.347px">aktif dan pemeriksaan rutin yang keberhasilannya dapat dinilai dengan</div>
<div class="t" style="left:571.4px;top:669.82px;font:16px 'DejaVu Sans', sans-serif;line-height:normal;color:#111;letter-spacing:0.3px">indikator <i>discarded rate</i></div>
</body></html>
